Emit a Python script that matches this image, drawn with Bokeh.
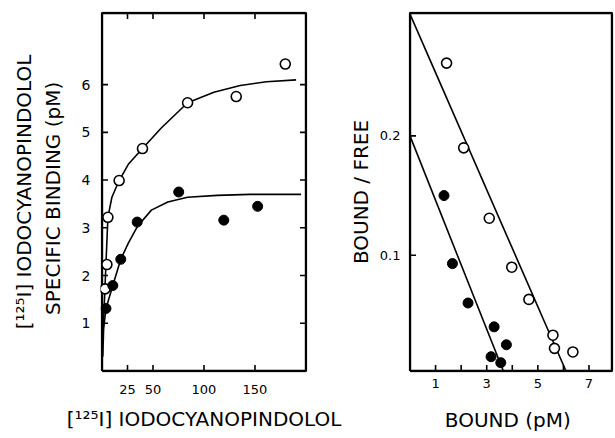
import math
from bokeh.plotting import figure
from bokeh.layouts import row
from bokeh.models import FixedTicker, Range1d
from bokeh.embed import file_html
from bokeh.resources import INLINE

# ---- Left panel: saturation binding ----
left_xlim = (0, 200)
left_ylim = (0, 7.5)
open_x = [3.0, 4.8, 5.8, 16.8, 39.7, 83.9, 131.6, 179.7]
open_y = [1.72, 2.23, 3.22, 3.99, 4.66, 5.62, 5.75, 6.43]
filled_x = [3.9, 10.6, 18.4, 34.5, 75.2, 119.4, 152.6]
filled_y = [1.31, 1.79, 2.34, 3.12, 3.75, 3.16, 3.45]

open_curve_x = [0.6, 2.6, 4.2, 5.8, 9.7, 16.8, 25.8, 39.7, 58.1, 83.9, 109.7, 135.5, 161.3, 190.3]
open_curve_y = [0.55, 1.58, 2.41, 3.22, 3.64, 3.99, 4.33, 4.66, 5.09, 5.62, 5.84, 5.98, 6.06, 6.10]
filled_curve_x = [0.8, 1.6, 3.9, 10.6, 18.4, 25.8, 34.5, 48.4, 64.5, 83.9, 112.9, 145.2, 195.2]
filled_curve_y = [0.30, 0.89, 1.31, 1.79, 2.34, 2.68, 3.02, 3.37, 3.54, 3.64, 3.68, 3.70, 3.70]

left_xticks = [25, 50, 100, 150]
left_yticks = [1, 2, 3, 4, 5, 6]

# ---- Right panel: Scatchard plot ----
right_xlim = (0, 7.9)
right_ylim = (0.003, 0.303)
s_open_x = [1.43, 2.10, 3.10, 3.98, 4.65, 5.59, 5.65, 6.37]
s_open_y = [0.261, 0.190, 0.131, 0.090, 0.063, 0.033, 0.022, 0.019]
s_filled_x = [1.33, 1.66, 2.27, 3.29, 3.77, 3.17, 3.55]
s_filled_y = [0.150, 0.093, 0.060, 0.040, 0.025, 0.015, 0.010]

s_open_line_x = [0.0, 6.1]
s_open_line_y = [0.302, 0.003]
s_filled_line_x = [0.0, 3.65]
s_filled_line_y = [0.200, 0.003]

right_xticks = [1, 2, 3, 4, 5, 6, 7]
right_xlabels = {1: "1", 2: "", 3: "3", 4: "", 5: "5", 6: "", 7: "7"}
right_yticks = [0.1, 0.2]

FONT = "DejaVu Sans"
PAD_PX = 1.5
TICK_PX = 6


def make_fig(width, height, xlim, ylim, bl, br, bt, bb):
    fw = width - bl - br
    fh = height - bt - bb
    ux = (xlim[1] - xlim[0]) / (fw - 2 * PAD_PX)
    uy = (ylim[1] - ylim[0]) / (fh - 2 * PAD_PX)
    p = figure(width=width, height=height, output_backend="svg", toolbar_location=None,
               x_range=Range1d(xlim[0] - PAD_PX * ux, xlim[1] + PAD_PX * ux),
               y_range=Range1d(ylim[0] - PAD_PX * uy, ylim[1] + PAD_PX * uy),
               min_border_left=bl, min_border_right=br, min_border_top=bt, min_border_bottom=bb)
    p.outline_line_color = None
    p.xgrid.visible = False
    p.ygrid.visible = False
    p.background_fill_color = "white"
    p.border_fill_color = None
    # frame
    p.line([xlim[0], xlim[1], xlim[1], xlim[0], xlim[0]],
           [ylim[0], ylim[0], ylim[1], ylim[1], ylim[0]],
           line_color="black", line_width=2.4)
    return p, ux * TICK_PX, uy * TICK_PX


def ax_style(ax, size="13px"):
    ax.axis_line_color = None
    ax.major_tick_line_color = None
    ax.minor_tick_line_color = None
    ax.major_tick_in = 0
    ax.major_tick_out = 0
    ax.minor_tick_in = 0
    ax.minor_tick_out = 0
    ax.major_label_text_font = FONT
    ax.major_label_text_font_size = size
    ax.major_label_text_color = "black"
    ax.axis_label_text_font = FONT
    ax.axis_label_text_font_style = "normal"
    ax.axis_label_text_font_size = "20px"
    ax.axis_label_text_color = "black"


def yticks_at(p, xpos, direction, ticks, tlen):
    p.segment(x0=[xpos] * len(ticks), y0=ticks, x1=[xpos + direction * tlen] * len(ticks), y1=ticks,
              line_color="black", line_width=1.6)


def xticks_at(p, ypos, direction, ticks, tlen):
    p.segment(x0=ticks, y0=[ypos] * len(ticks), x1=ticks, y1=[ypos + direction * tlen] * len(ticks),
              line_color="black", line_width=1.6)


# Left figure
p1, tx1, ty1 = make_fig(345, 438, left_xlim, left_ylim, 100, 38, 11, 66)
p1.xaxis.ticker = FixedTicker(ticks=left_xticks)
p1.yaxis.ticker = FixedTicker(ticks=left_yticks)
ax_style(p1.xaxis[0], size="13px")
ax_style(p1.yaxis[0], size="14px")
p1.xaxis.major_label_standoff = 12
p1.yaxis.major_label_standoff = 10
p1.xaxis.axis_label = "[\u00b9\u00b2\u2075I] IODOCYANOPINDOLOL"
p1.xaxis.axis_label_standoff = 10
p1.yaxis.axis_label = "[\u00b9\u00b2\u2075I] IODOCYANOPINDOLOL\nSPECIFIC  BINDING  (pM)"
p1.yaxis.axis_label_standoff = 14

yticks_at(p1, left_xlim[0], 1, left_yticks, tx1)
yticks_at(p1, left_xlim[1], -1, left_yticks, tx1)
xticks_at(p1, left_ylim[0], 1, left_xticks, ty1)
xticks_at(p1, left_ylim[1], -1, left_xticks, ty1)

p1.line(open_curve_x, open_curve_y, line_color="black", line_width=1.6)
p1.line(filled_curve_x, filled_curve_y, line_color="black", line_width=1.6)
p1.scatter(open_x, open_y, size=10, fill_color="white", line_color="black", line_width=1.6)
p1.scatter(filled_x, filled_y, size=10, fill_color="black", line_color="black", line_width=1)

# Right figure
p2, tx2, ty2 = make_fig(270, 438, right_xlim, right_ylim, 63, 2, 5, 66)
p2.xaxis.ticker = FixedTicker(ticks=right_xticks)
p2.xaxis.major_label_overrides = right_xlabels
p2.yaxis.ticker = FixedTicker(ticks=right_yticks)
ax_style(p2.xaxis[0], size="13px")
ax_style(p2.yaxis[0], size="13px")
p2.xaxis.major_label_standoff = 6
p2.yaxis.major_label_standoff = 8
p2.xaxis.axis_label = "BOUND  (pM)"
p2.xaxis.axis_label_standoff = 17
p2.yaxis.axis_label = "BOUND / FREE"
p2.yaxis.axis_label_standoff = 4

yticks_at(p2, right_xlim[0], 1, right_yticks, tx2)
xticks_at(p2, right_ylim[0], 1, right_xticks, ty2)

p2.line(s_open_line_x, s_open_line_y, line_color="black", line_width=1.6)
p2.line(s_filled_line_x, s_filled_line_y, line_color="black", line_width=1.6)
p2.scatter(s_open_x, s_open_y, size=10, fill_color="white", line_color="black", line_width=1.6)
p2.scatter(s_filled_x, s_filled_y, size=10, fill_color="black", line_color="black", line_width=1)

layout = row(p1, p2)
open("out.html", "w").write(file_html(layout, INLINE))
